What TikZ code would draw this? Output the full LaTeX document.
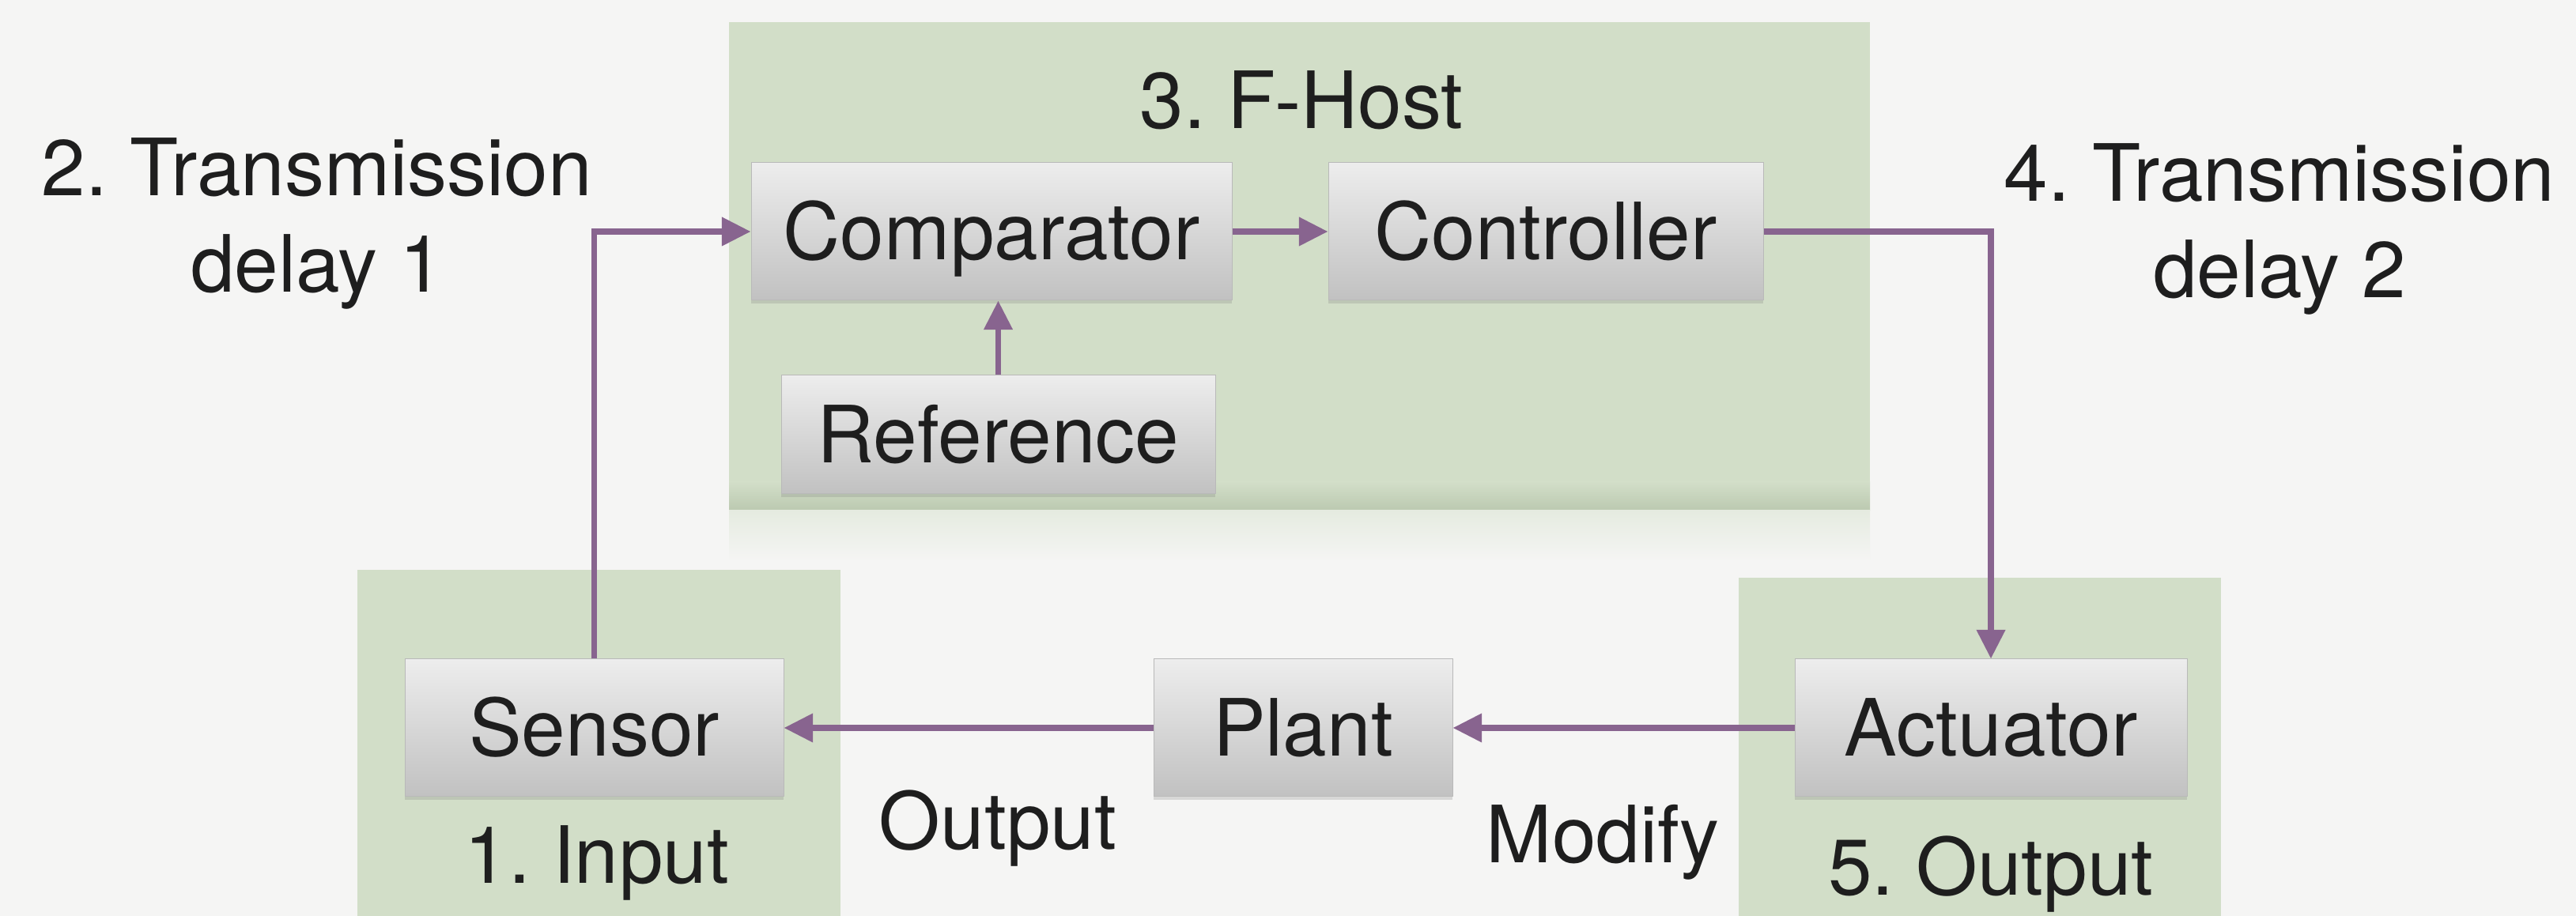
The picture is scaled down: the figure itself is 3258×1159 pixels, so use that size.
\documentclass[tikz,border=0pt]{standalone}
\usepackage{fontspec}
\setmainfont{TeX Gyre Heros}
\usetikzlibrary{arrows.meta,shadows}
\definecolor{paper}{HTML}{F5F5F4}
\definecolor{zone}{HTML}{D2DEC8}
\definecolor{zonedark}{HTML}{BBC9B0}
\definecolor{zoneglow}{HTML}{E5EBE0}
\definecolor{link}{HTML}{88648F}
\definecolor{boxtop}{HTML}{EDEDED}
\definecolor{boxbottom}{HTML}{C1C1C1}
\definecolor{ink}{HTML}{1E1E1E}
\frenchspacing

\begin{document}
\begin{tikzpicture}[x=0.3pt,y=-0.3pt,
  every node/.style={font=\fontsize{30}{36.6}\selectfont, text=ink},
  block/.style={rectangle, inner sep=0pt, top color=boxtop, bottom color=boxbottom,
    draw=gray!55, line width=0.3pt, text height=21.6pt, text depth=0pt,
    minimum height=52.2pt,
    drop shadow={shadow xshift=0pt, shadow yshift=-1.2pt, opacity=0.25}},
  flow/.style={draw=link, line width=2.2pt, -{Triangle[length=11pt,width=10.5pt]}},
  tag/.style={anchor=base, align=center}
]
% paper
\fill[paper] (0,0) rectangle (3258,1159);
\useasboundingbox (0,0) rectangle (3258,1159);

% stage zones
\fill[zone] (922,28) rectangle (2365,646);
\shade[top color=zone, bottom color=zonedark] (922,610) rectangle (2365,646);
\shade[top color=zoneglow, bottom color=paper] (922,646) rectangle (2365,710);
\fill[zone] (452,721) rectangle (1063,1159);
\fill[zone] (2199,731) rectangle (2809,1159);

% blocks
\node[block, minimum width=182.4pt] (comparator) at (1254,293) {Comparator};
\node[block, minimum width=165pt]   (controller) at (1955,293) {Controller};
\node[block, minimum width=164.7pt, minimum height=45pt] (reference) at (1262.5,550) {Reference};
\node[block, minimum width=143.7pt] (sensor)   at (751.5,921) {Sensor};
\node[block, minimum width=113.4pt] (plant)    at (1648,921) {Plant};
\node[block, minimum width=148.8pt] (actuator) at (2518,921) {Actuator};

% labels (multi-line labels sit on the baseline of their last line)
\node[tag] (fhost)    at (1646,163)  {3. F-Host};
\node[tag] (delayone) at (401,370)   {2. Transmission\\delay 1};
\node[tag] (delaytwo) at (2883,377)  {4. Transmission\\delay 2};
\node[tag] (input)    at (755,1118)  {1. Input};
\node[tag] (output)   at (2518,1133) {5. Output};
\node[tag] (outlbl)   at (1262,1075) {Output};
\node[tag] (modify)   at (2027,1092) {Modify};

% signal flow
\draw[flow] (sensor.north) |- (comparator.west);
\draw[flow] (comparator.east) -- (controller.west);
\draw[flow] (reference.north) -- (reference.north |- comparator.south);
\draw[flow] (controller.east) -| (actuator.north);
\draw[flow] (actuator.west) -- (plant.east);
\draw[flow] (plant.west) -- (sensor.east);
\end{tikzpicture}
\end{document}
